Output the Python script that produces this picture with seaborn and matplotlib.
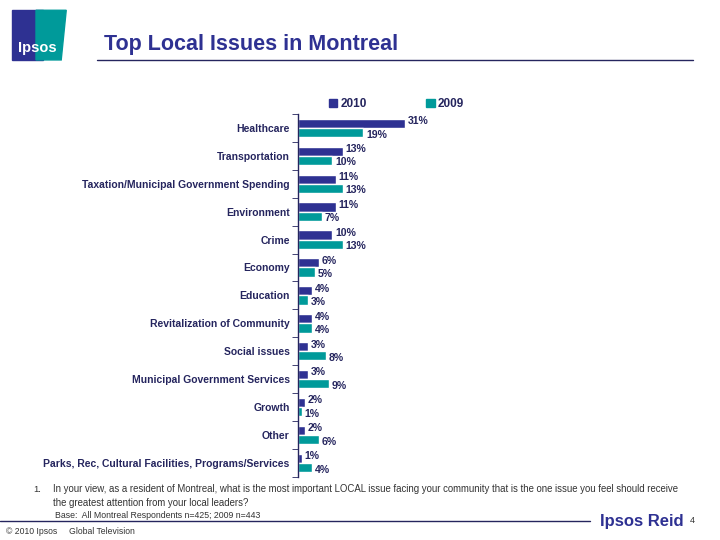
import numpy as np
import pandas as pd
import seaborn as sns
import matplotlib.pyplot as plt
from matplotlib.patches import Polygon

#data
issues = ['Healthcare', 'Transportation', 'Taxation/Municipal Government Spending',
          'Environment', 'Crime', 'Economy', 'Education', 'Revitalization of Community',
          'Social issues', 'Municipal Government Services', 'Growth', 'Other',
          'Parks, Rec, Cultural Facilities, Programs/Services']
pct_2010 = [31, 13, 11, 11, 10, 6, 4, 4, 3, 3, 2, 2, 1]
pct_2009 = [19, 10, 13, 7, 13, 5, 3, 4, 8, 9, 1, 6, 4]
years = ['2010', '2009']

navy = '#2E3192'
teal = '#009A9A'
txt = '#25255E'

df = pd.DataFrame({'Issue': issues * 2,
                   'Year': ['2010'] * len(issues) + ['2009'] * len(issues),
                   'Pct': pct_2010 + pct_2009})

sns.set_style('white')
plt.rcParams['font.family'] = ['Liberation Sans', 'DejaVu Sans']

fig = plt.figure(figsize=(7.2, 5.4), dpi=100)
ax = fig.add_axes([0.414, 0.117, 0.239, 0.672])

sns.barplot(data=df, y='Issue', x='Pct', hue='Year', hue_order=years,
            palette=[navy, teal], orient='h', width=0.66, saturation=1,
            order=issues, ax=ax, legend=False)

ax.set_xlim(0, 50)
ax.set_ylim(len(issues) - 0.5, -0.5)
ax.set_xlabel('')
ax.set_ylabel('')
ax.set_xticks([])
for s in ['top', 'right', 'bottom']:
    ax.spines[s].set_visible(False)
ax.spines['left'].set_color(txt)
ax.spines['left'].set_linewidth(1)
ax.tick_params(axis='y', which='major', length=0, pad=6)
ax.set_yticks(np.arange(-0.5, len(issues), 1), minor=True)
ax.tick_params(axis='y', which='minor', length=4, color=txt, direction='out', left=True)
for lab in ax.get_yticklabels():
    lab.set_fontsize(7.5)
    lab.set_fontweight('bold')
    lab.set_color(txt)

#value labels, 2010 nudged up and 2009 nudged down
for cont, dy in zip(ax.containers, [1.5, -1.5]):
    for bar, v in zip(cont.patches, cont.datavalues):
        ax.annotate(f'{v:.0f}%', (bar.get_width(), bar.get_y() + bar.get_height() / 2),
                    xytext=(2, dy), textcoords='offset points', ha='left', va='center',
                    fontsize=7.6, fontweight='bold', color=txt)

#legend
handles = [plt.Rectangle((0, 0), 1, 1, color=navy), plt.Rectangle((0, 0), 1, 1, color=teal)]
leg = fig.legend(handles, years, loc='center', bbox_to_anchor=(0.551, 0.807), ncol=2,
                 frameon=False, handlelength=0.7, handleheight=0.7, handletextpad=0.3,
                 columnspacing=5, prop={'size': 8.5, 'weight': 'bold'})
for t in leg.get_texts():
    t.set_color(txt)

#header
fig.text(0.145, 0.918, 'Top Local Issues in Montreal', fontsize=15.5, fontweight='bold',
         color=navy, va='center')
fig.add_artist(plt.Line2D([0.135, 0.963], [0.889, 0.889], color=txt, lw=1))
fig.add_artist(Polygon([[0.017, 0.981], [0.06, 0.981], [0.06, 0.889], [0.017, 0.889]],
                       closed=True, color=navy, transform=fig.transFigure))
fig.add_artist(Polygon([[0.05, 0.981], [0.092, 0.981], [0.085, 0.889], [0.05, 0.889]],
                       closed=True, color=teal, transform=fig.transFigure))
fig.text(0.052, 0.912, 'Ipsos', fontsize=10.5, fontweight='bold', color='white',
         ha='center', va='center')

#footer
fig.text(0.046, 0.094, '1.', fontsize=6.8, color='#333333', va='center')
fig.text(0.074, 0.094, 'In your view, as a resident of Montreal, what is the most important LOCAL issue facing your community that is the one issue you feel should receive',
         fontsize=6.9, color='#333333', va='center')
fig.text(0.074, 0.068, 'the greatest attention from your local leaders?', fontsize=6.9,
         color='#333333', va='center')
fig.text(0.076, 0.046, 'Base:  All Montreal Respondents n=425; 2009 n=443', fontsize=6.3,
         color='#333333', va='center')
fig.add_artist(plt.Line2D([0.0, 0.82], [0.035, 0.035], color=txt, lw=1))
fig.text(0.008, 0.016, '© 2010 Ipsos     Global Television', fontsize=6.2, color='#333333',
         va='center')
fig.text(0.833, 0.035, 'Ipsos Reid', fontsize=12, fontweight='bold', color=navy, va='center')
fig.text(0.958, 0.037, '4', fontsize=6.5, color='#333333', va='center')

fig.savefig('out.png', dpi=100)
